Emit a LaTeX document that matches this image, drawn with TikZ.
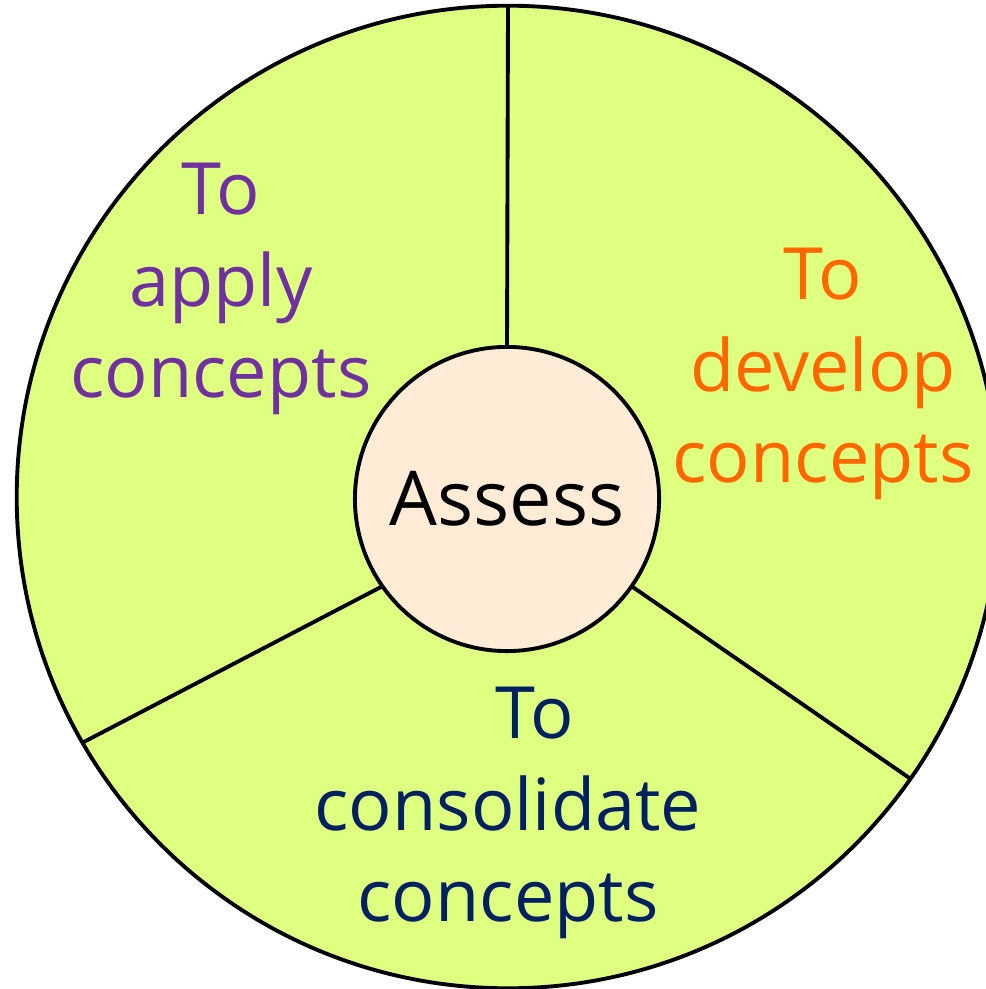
\documentclass[tikz,border=0pt]{standalone}
\usepackage{fontspec}
\setmainfont{Open Sans}
\usepackage{tikz}
\usetikzlibrary{calc}
\usetikzlibrary{positioning,shapes}
\definecolor{wheelgreen}{RGB}{223,255,128}
\definecolor{hubpeach}{RGB}{255,235,214}
\definecolor{applycol}{RGB}{112,48,160}
\definecolor{devcol}{RGB}{255,102,0}
\definecolor{conscol}{RGB}{0,32,96}
\tikzstyle{line}=[-, line width=1.1pt]
\tikzstyle{rim}=[circle, draw, line width=1.1pt, fill=wheelgreen, inner sep=0pt, outer sep=0pt]
\tikzstyle{label}=[align=center, inner sep=0pt, font=\fontsize{20.5}{26}\selectfont]

\begin{document}
\begin{tikzpicture}[x=0.01cm,y=-0.01cm]

    \useasboundingbox (0,0) rectangle (986,989);
    \clip (0,0) rectangle (986,989);

    \node (Whl) [rim, minimum size=9.82cm] at (508,497) {};

    \node (Hub) [rim, fill=hubpeach, minimum size=3.04cm, label,
                 font=\fontsize{21.5}{26}\selectfont] at (507,499) {Assess};

    \draw [line] (Hub.north) -- (Whl.north);
    \draw [line] (Hub.215) -- (Whl.210);
    \draw [line] (Hub.325) -- (Whl.325);

    \node (Apply) [label, text=applycol] at (221,289) {To\\apply\\concepts};
    \node (Dev) [label, text=devcol] at (823,374) {To\\develop\\concepts};
    \node (Cons) [label, text=conscol] at (508,813) {\hspace{0.54cm}To\\consolidate\\concepts};

  \end{tikzpicture}
\end{document}
